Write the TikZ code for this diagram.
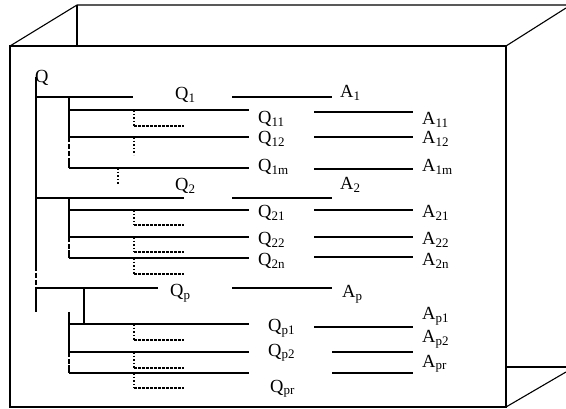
\documentclass[tikz,border=0pt]{standalone}
\usepackage{fontspec}
\setmainfont{Liberation Serif}
\newcommand{\sbs}[1]{\raisebox{-2.5pt}{\fontsize{13}{13}\selectfont #1}}
\tikzset{
  lbl/.style={anchor=base west,inner sep=0pt,font=\fontsize{18.5}{20}\selectfont},
  ln/.style={line width=1.1pt},
  vdots/.style={line width=1.6pt,dotted},
  hdash/.style={line width=1.6pt,dash pattern=on 2.6pt off 1.4pt},
  brk/.style={line width=1.3pt,dash pattern=on 5pt off 2pt},
}
\begin{document}
\begin{tikzpicture}[x=1pt,y=-1pt]
	\useasboundingbox (0,0) rectangle (566,409);
	% Draw the box
	\draw[ln] (10,46) rectangle (506,407);
	\draw[ln] (10,46) -- (77,5) -- (566,5);
	\draw[ln] (77,5) -- (77,46);
	\draw[ln] (506,46) -- (566,8);
	\draw[ln] (506,367) -- (566,367);
	\draw[ln] (506,407) -- (566,372);
	% Labels
	\node[lbl] (q) at (35,83) {Q};
	\node[lbl] (q1) at (175,100) {Q\sbs{1}};
	\node[lbl] (a1) at (340,98) {A\sbs{1}};
	\node[lbl] (q11) at (258,124) {Q\sbs{11}};
	\node[lbl] (a11) at (422,125) {A\sbs{11}};
	\node[lbl] (q12) at (258,144) {Q\sbs{12}};
	\node[lbl] (a12) at (422,144) {A\sbs{12}};
	\node[lbl] (q1m) at (258,172) {Q\sbs{1m}};
	\node[lbl] (a1m) at (422,172) {A\sbs{1m}};
	\node[lbl] (q2) at (175,191) {Q\sbs{2}};
	\node[lbl] (a2) at (340,190) {A\sbs{2}};
	\node[lbl] (q21) at (258,218) {Q\sbs{21}};
	\node[lbl] (a21) at (422,218) {A\sbs{21}};
	\node[lbl] (q22) at (258,245) {Q\sbs{22}};
	\node[lbl] (a22) at (422,245) {A\sbs{22}};
	\node[lbl] (q2n) at (258,266) {Q\sbs{2n}};
	\node[lbl] (a2n) at (422,266) {A\sbs{2n}};
	\node[lbl] (qp) at (170,297) {Q\sbs{p}};
	\node[lbl] (ap) at (342,298) {A\sbs{p}};
	\node[lbl] (qp1) at (268,332) {Q\sbs{p1}};
	\node[lbl] (ap1) at (422,320) {A\sbs{p1}};
	\node[lbl] (qp2) at (268,356) {Q\sbs{p2}};
	\node[lbl] (ap2) at (422,343) {A\sbs{p2}};
	\node[lbl] (qpr) at (270,392) {Q\sbs{pr}};
	\node[lbl] (apr) at (422,367) {A\sbs{pr}};
	% Draw the main trunk
	\draw[ln] (36,77) -- (36,266);
	\draw[brk] (36,266) -- (36,292);
	\draw[ln] (36,292) -- (36,312);
	% Branch Q1
	\draw[ln] (36,97) -- (133,97);
	\draw[ln] (232,97) -- (332,97);
	\draw[ln] (69,97) -- (69,137);
	\draw[brk] (69,137) -- (69,160);
	\draw[ln] (69,160) -- (69,168);
	\draw[ln] (69,110) -- (249,110);
	\draw[ln] (314,112) -- (413,112);
	\draw[ln] (69,137) -- (249,137);
	\draw[ln] (314,137) -- (413,137);
	\draw[ln] (69,168) -- (249,168);
	\draw[ln] (314,169) -- (413,169);
	\draw[vdots] (134,110) -- (134,126);
	\draw[hdash] (134,126) -- (184,126);
	\draw[vdots] (134,137) -- (134,155);
	\draw[vdots] (118,168) -- (118,185);
	% Branch Q2
	\draw[ln] (36,198) -- (184,198);
	\draw[ln] (232,198) -- (332,198);
	\draw[ln] (69,198) -- (69,237);
	\draw[brk] (69,237) -- (69,250);
	\draw[ln] (69,250) -- (69,258);
	\draw[ln] (69,210) -- (249,210);
	\draw[ln] (314,210) -- (413,210);
	\draw[ln] (69,237) -- (249,237);
	\draw[ln] (314,237) -- (413,237);
	\draw[ln] (69,258) -- (249,258);
	\draw[ln] (314,257) -- (413,257);
	\draw[vdots] (134,210) -- (134,225);
	\draw[hdash] (134,225) -- (184,225);
	\draw[vdots] (134,237) -- (134,252);
	\draw[hdash] (134,252) -- (184,252);
	\draw[vdots] (134,258) -- (134,274);
	\draw[hdash] (134,274) -- (184,274);
	% Branch Qp
	\draw[ln] (36,288) -- (158,288);
	\draw[ln] (232,288) -- (332,288);
	\draw[ln] (84,288) -- (84,324);
	\draw[ln] (69,312) -- (69,352);
	\draw[brk] (69,352) -- (69,365);
	\draw[ln] (69,365) -- (69,373);
	\draw[ln] (69,324) -- (249,324);
	\draw[ln] (314,327) -- (413,327);
	\draw[ln] (69,352) -- (249,352);
	\draw[ln] (332,352) -- (413,352);
	\draw[ln] (69,373) -- (249,373);
	\draw[ln] (332,373) -- (413,373);
	\draw[vdots] (134,324) -- (134,340);
	\draw[hdash] (134,340) -- (184,340);
	\draw[vdots] (134,352) -- (134,368);
	\draw[hdash] (134,368) -- (184,368);
	\draw[vdots] (134,373) -- (134,388);
	\draw[hdash] (134,388) -- (184,388);
\end{tikzpicture}
\end{document}
